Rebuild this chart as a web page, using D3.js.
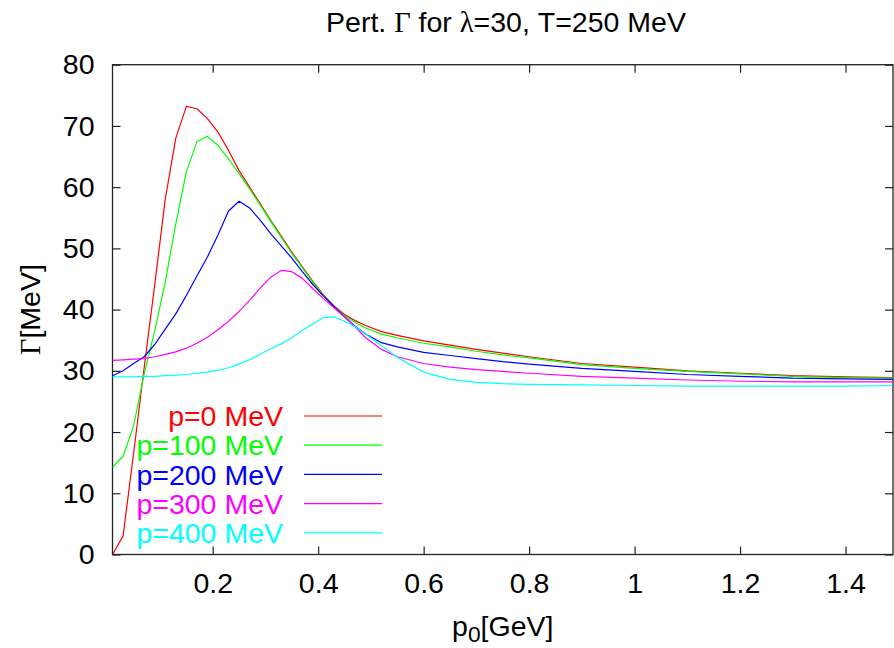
<!DOCTYPE html>
<html>
<head>
<meta charset="utf-8">
<script src="https://cdn.jsdelivr.net/npm/d3@7"></script>
<style>
  html, body { margin: 0; padding: 0; background: #fff; }
  svg { display: block; }
  text { font-family: "Liberation Sans", Arial, Helvetica, sans-serif; }
</style>
</head>
<body>
<svg id="chart" width="894" height="648"></svg>
<script>
// ---- data ----
const p0 = [0.01, 0.03, 0.05, 0.07, 0.09, 0.11, 0.13, 0.15, 0.17, 0.19, 0.21, 0.23, 0.25, 0.27, 0.29, 0.31, 0.33, 0.35, 0.37, 0.39, 0.41, 0.43, 0.45, 0.47, 0.49, 0.52, 0.55, 0.6, 0.65, 0.7, 0.75, 0.8, 0.9, 1.0, 1.1, 1.2, 1.3, 1.4, 1.49];
const gammaP0   = [0, 3, 16.5, 30.5, 44, 58, 68, 73.2, 72.8, 71.2, 69, 66, 62.7, 60, 57.3, 54.6, 52, 49.4, 47, 44.6, 42.4, 40.6, 39.2, 38.2, 37.4, 36.4, 35.8, 34.9, 34.2, 33.5, 32.9, 32.3, 31.2, 30.6, 30.0, 29.6, 29.2, 29.0, 28.9];
const gammaP100 = [14.3, 16, 21, 29.5, 36.5, 44.5, 54, 62.5, 67.4, 68.3, 66.8, 64.6, 62.2, 59.7, 57.1, 54.4, 51.8, 49.2, 46.8, 44.5, 42.3, 40.5, 39.0, 37.9, 37.0, 36.0, 35.4, 34.5, 33.9, 33.2, 32.6, 32.1, 31.0, 30.4, 29.9, 29.5, 29.1, 28.9, 28.8];
const gammaP200 = [29.2, 30.0, 31.2, 32.3, 34.3, 36.8, 39.3, 42.3, 45.5, 48.6, 52.2, 56.1, 57.7, 56.6, 54.6, 52.4, 50.4, 48.4, 46.2, 44.1, 42.2, 40.5, 38.8, 37.3, 36.0, 34.6, 33.9, 33.0, 32.5, 32.0, 31.5, 31.1, 30.4, 29.9, 29.4, 29.1, 28.8, 28.7, 28.6];
const gammaP300 = [31.7, 31.8, 31.9, 32.0, 32.3, 32.7, 33.1, 33.7, 34.5, 35.5, 36.7, 38.1, 39.7, 41.5, 43.5, 45.3, 46.4, 46.2, 45.1, 43.4, 41.8, 40.3, 38.8, 37.2, 35.4, 33.5, 32.3, 31.2, 30.6, 30.2, 29.9, 29.6, 29.1, 28.8, 28.5, 28.3, 28.2, 28.2, 28.2];
const gammaP400 = [29.0, 29.0, 29.0, 29.1, 29.1, 29.2, 29.3, 29.4, 29.6, 29.8, 30.1, 30.5, 31.1, 31.8, 32.7, 33.6, 34.4, 35.4, 36.6, 37.7, 38.7, 38.8, 38.1, 37.2, 36.0, 34.1, 32.2, 29.8, 28.6, 28.1, 27.9, 27.8, 27.7, 27.6, 27.5, 27.5, 27.5, 27.5, 27.6];

const seriesNames  = ["p=0 MeV", "p=100 MeV", "p=200 MeV", "p=300 MeV", "p=400 MeV"];
const seriesValues = [gammaP0, gammaP100, gammaP200, gammaP300, gammaP400];
const seriesColors = ["#ff0000", "#00ff00", "#0000ff", "#ff00ff", "#00ffff"];

const xTicks = [0.2, 0.4, 0.6, 0.8, 1.0, 1.2, 1.4];
const xTickLabels = ["0.2", "0.4", "0.6", "0.8", "1", "1.2", "1.4"];
const yTicks = [0, 10, 20, 30, 40, 50, 60, 70, 80];

// ---- layout ----
const svg = d3.select("#chart");
const L = 112.5, R = 893, T = 64.7, B = 554.5;
const FS = 28.5;

const x = d3.scaleLinear().domain([0.01, 1.49]).range([L, R]);
const y = d3.scaleLinear().domain([0, 80]).range([B, T]);

const axisColor = "#222";

// axes with inward ticks
const gB = svg.append("g").attr("transform", `translate(0,${B})`)
  .call(d3.axisBottom(x).tickValues(xTicks).tickSize(-8).tickPadding(18)
    .tickFormat((d, i) => xTickLabels[i]));
const gT = svg.append("g").attr("transform", `translate(0,${T})`)
  .call(d3.axisTop(x).tickValues(xTicks).tickSize(-8).tickFormat(""));
const gL = svg.append("g").attr("transform", `translate(${L},0)`)
  .call(d3.axisLeft(y).tickValues(yTicks).tickSize(-8).tickPadding(18));
const gR = svg.append("g").attr("transform", `translate(${R},0)`)
  .call(d3.axisRight(y).tickValues(yTicks).tickSize(-8).tickFormat(""));

[gB, gT, gL, gR].forEach(g => {
  g.select(".domain").remove();
  g.selectAll(".tick line").attr("stroke", axisColor).attr("stroke-width", 1.2);
  g.selectAll(".tick text").attr("fill", "#000").style("font-size", FS + "px")
    .style("font-family", '"Liberation Sans", Arial, sans-serif');
});
gB.selectAll(".tick text").attr("dy", "0.71em");

// frame
svg.append("rect").attr("x", L).attr("y", T).attr("width", R - L).attr("height", B - T)
  .attr("fill", "none").attr("stroke", axisColor).attr("stroke-width", 1.3);

// clip
svg.append("clipPath").attr("id", "clip").append("rect")
  .attr("x", L).attr("y", T).attr("width", R - L).attr("height", B - T);

const line = d3.line().x(d => x(d[0])).y(d => y(d[1]));
const plot = svg.append("g").attr("clip-path", "url(#clip)");
seriesValues.forEach((vals, i) => {
  plot.append("path")
    .datum(p0.map((p, j) => [p, vals[j]]))
    .attr("fill", "none")
    .attr("stroke", seriesColors[i])
    .attr("stroke-width", 1.2)
    .attr("stroke-linejoin", "round")
    .attr("d", line);
});

// legend
const legTextX = 283, legLineX1 = 304, legLineX2 = 382, legY0 = 416, legDY = 29.2;
seriesNames.forEach((name, i) => {
  const yy = legY0 + i * legDY;
  svg.append("text").attr("x", legTextX).attr("y", yy).attr("dy", "0.36em")
    .attr("text-anchor", "end").attr("fill", seriesColors[i])
    .style("font-size", FS + "px").text(name);
  svg.append("line").attr("x1", legLineX1).attr("x2", legLineX2)
    .attr("y1", yy).attr("y2", yy)
    .attr("stroke", seriesColors[i]).attr("stroke-width", 1.2);
});

// title
const title = svg.append("text").attr("x", 506).attr("y", 32)
  .attr("text-anchor", "middle").style("font-size", FS + "px");
title.append("tspan").text("Pert. ");
title.append("tspan").style("font-family", '"Liberation Serif", serif').text("Γ");
title.append("tspan").text(" for ");
title.append("tspan").style("font-family", '"Liberation Serif", serif').text("λ");
title.append("tspan").text("=30, T=250 MeV");

// x label
const xl = svg.append("text").attr("x", (L + R) / 2).attr("y", 636)
  .attr("text-anchor", "middle").style("font-size", FS + "px");
xl.append("tspan").text("p");
xl.append("tspan").attr("dy", 6).style("font-size", (FS * 0.8) + "px").text("0");
xl.append("tspan").attr("dy", -6).text("[GeV]");

// y label
const yl = svg.append("text")
  .attr("transform", `translate(40,${(T + B) / 2}) rotate(-90)`)
  .attr("text-anchor", "middle").style("font-size", FS + "px");
yl.append("tspan").style("font-family", '"Liberation Serif", serif').text("Γ");
yl.append("tspan").text("[MeV]");
</script>
</body>
</html>
